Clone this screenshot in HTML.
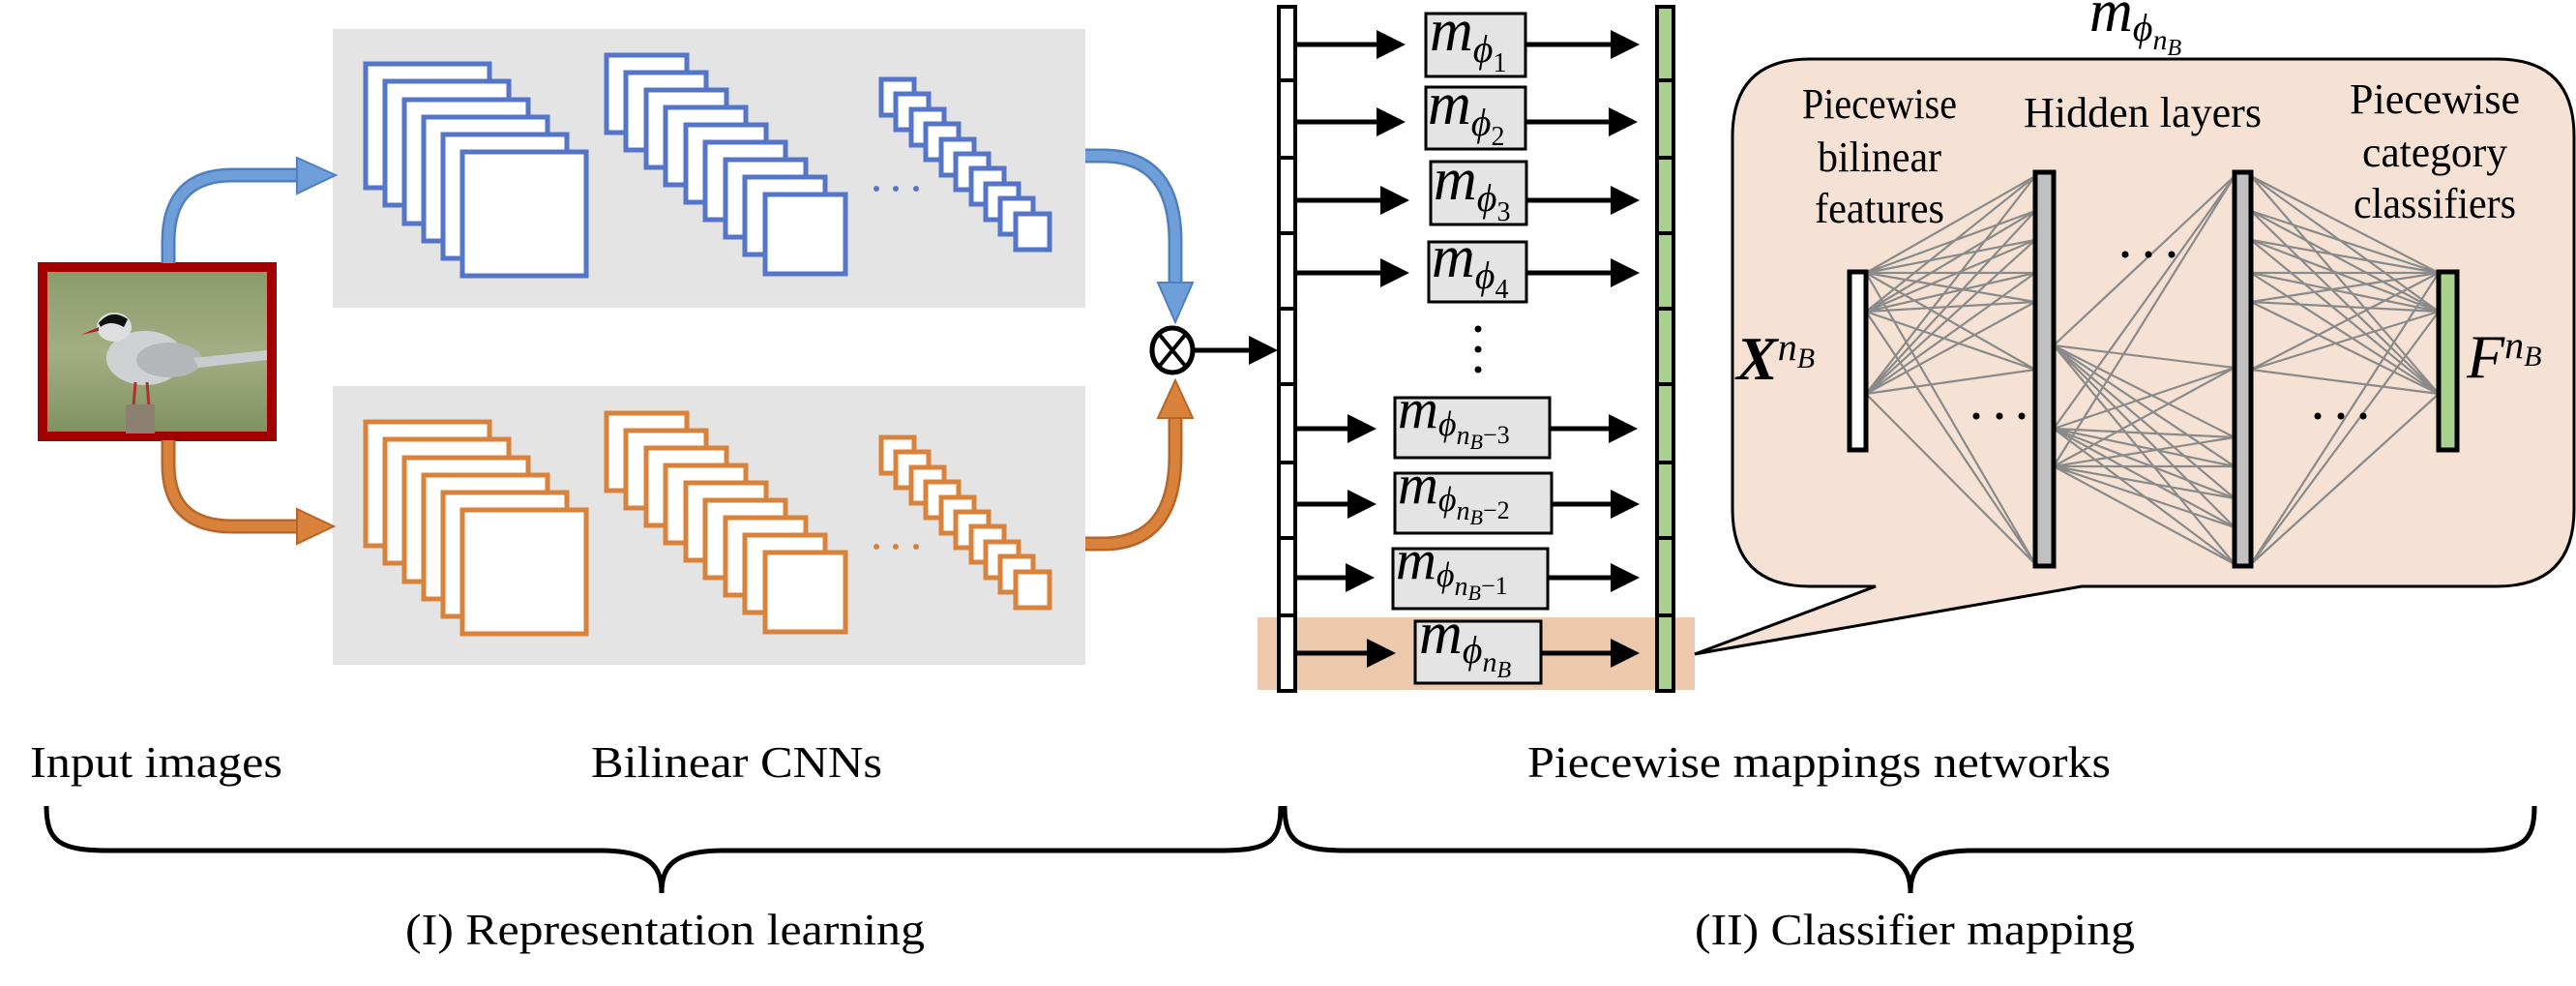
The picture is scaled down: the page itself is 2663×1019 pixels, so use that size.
<!DOCTYPE html>
<html><head><meta charset="utf-8"><style>
html,body{margin:0;padding:0;background:#fff;}
svg{display:block;}
text{font-family:"Liberation Serif",serif;fill:#000;}
</style></head><body>
<svg width="2663" height="1019" viewBox="0 0 2663 1019" xmlns="http://www.w3.org/2000/svg">
<defs>
<linearGradient id="bg" x1="0" y1="0" x2="0" y2="1">
<stop offset="0" stop-color="#8a9a6a"/><stop offset="0.5" stop-color="#a4ae84"/><stop offset="1" stop-color="#7f9060"/>
</linearGradient>
<marker id="ah" markerWidth="6" markerHeight="6" refX="5" refY="3" orient="auto" markerUnits="strokeWidth"><path d="M0,0 L6,3 L0,6 z" fill="#000"/></marker>
</defs>

<rect x="344" y="30" width="778" height="288" fill="#e4e4e4"/>
<rect x="344" y="399" width="778" height="288" fill="#e4e4e4"/>

<rect x="44" y="276" width="237" height="175" fill="url(#bg)" stroke="#a30000" stroke-width="10"/>
<g>
<ellipse cx="150" cy="370" rx="40" ry="28" fill="#cfd1d3"/>
<ellipse cx="175" cy="372" rx="34" ry="18" fill="#b4b7ba"/>
<path d="M200 370 L276 362 L276 372 L205 380 z" fill="#c9ccce"/>
<ellipse cx="118" cy="338" rx="18" ry="15" fill="#dcdedf"/>
<path d="M102 334 Q115 318 132 330 L128 338 Q114 330 104 338z" fill="#111"/>
<path d="M102 338 L84 346 L102 342z" fill="#b02020"/>
<path d="M140 395 L138 420 M152 395 L154 420" stroke="#b03030" stroke-width="3"/>
<rect x="130" y="418" width="30" height="30" fill="#8c8070"/>
</g>

<path d="M174 272 V250 Q174 181 240 181 H310" fill="none" stroke="#4f7fbf" stroke-width="15"/>
<path d="M174 272 V250 Q174 181 240 181 H310" fill="none" stroke="#6f9fd8" stroke-width="10"/>
<polygon points="307,163 347,181 307,200" fill="#6f9fd8" stroke="#4f7fbf" stroke-width="2"/>
<path d="M1122 161 H1140 Q1215 161 1215 250 V294" fill="none" stroke="#4f7fbf" stroke-width="15"/>
<path d="M1122 161 H1140 Q1215 161 1215 250 V294" fill="none" stroke="#6f9fd8" stroke-width="10"/>
<polygon points="1197,292 1233,292 1215,333" fill="#6f9fd8" stroke="#4f7fbf" stroke-width="2"/>
<path d="M174 455 V480 Q174 544 240 544 H310" fill="none" stroke="#b8652a" stroke-width="15"/>
<path d="M174 455 V480 Q174 544 240 544 H310" fill="none" stroke="#d9823b" stroke-width="10"/>
<polygon points="307,526 345,544 307,562" fill="#d9823b" stroke="#b8652a" stroke-width="2"/>
<path d="M1122 562 H1140 Q1215 562 1215 470 V430" fill="none" stroke="#b8652a" stroke-width="15"/>
<path d="M1122 562 H1140 Q1215 562 1215 470 V430" fill="none" stroke="#d9823b" stroke-width="10"/>
<polygon points="1197,432 1233,432 1215,393" fill="#d9823b" stroke="#b8652a" stroke-width="2"/>

<g fill="#fff" stroke="#5575c8" stroke-width="5">
<rect x="378" y="66" width="128" height="128"/><rect x="398" y="84" width="128" height="128"/><rect x="418" y="103" width="128" height="128"/><rect x="438" y="121" width="128" height="128"/><rect x="458" y="139" width="128" height="128"/><rect x="478" y="157" width="128" height="128"/>
<rect x="627" y="57" width="83" height="80"/><rect x="647" y="75" width="83" height="80"/><rect x="668" y="93" width="83" height="80"/><rect x="688" y="111" width="83" height="80"/><rect x="709" y="129" width="83" height="80"/><rect x="729" y="147" width="83" height="80"/><rect x="750" y="165" width="83" height="80"/><rect x="770" y="183" width="83" height="80"/><rect x="791" y="201" width="83" height="82"/>
<rect x="911" y="82" width="34" height="37"/><rect x="926" y="97" width="34" height="37"/><rect x="942" y="113" width="34" height="37"/><rect x="957" y="128" width="34" height="37"/><rect x="973" y="144" width="34" height="37"/><rect x="988" y="159" width="34" height="37"/><rect x="1004" y="174" width="34" height="37"/><rect x="1019" y="190" width="34" height="37"/><rect x="1034" y="205" width="34" height="37"/><rect x="1050" y="221" width="35" height="37"/>
</g>
<g fill="#5575c8"><circle cx="906" cy="195" r="3"/><circle cx="926" cy="195" r="3"/><circle cx="947" cy="195" r="3"/></g>
<g fill="#fff" stroke="#d9823b" stroke-width="5" transform="translate(0,370)">
<rect x="378" y="66" width="128" height="128"/><rect x="398" y="84" width="128" height="128"/><rect x="418" y="103" width="128" height="128"/><rect x="438" y="121" width="128" height="128"/><rect x="458" y="139" width="128" height="128"/><rect x="478" y="157" width="128" height="128"/>
<rect x="627" y="57" width="83" height="80"/><rect x="647" y="75" width="83" height="80"/><rect x="668" y="93" width="83" height="80"/><rect x="688" y="111" width="83" height="80"/><rect x="709" y="129" width="83" height="80"/><rect x="729" y="147" width="83" height="80"/><rect x="750" y="165" width="83" height="80"/><rect x="770" y="183" width="83" height="80"/><rect x="791" y="201" width="83" height="82"/>
<rect x="911" y="82" width="34" height="37"/><rect x="926" y="97" width="34" height="37"/><rect x="942" y="113" width="34" height="37"/><rect x="957" y="128" width="34" height="37"/><rect x="973" y="144" width="34" height="37"/><rect x="988" y="159" width="34" height="37"/><rect x="1004" y="174" width="34" height="37"/><rect x="1019" y="190" width="34" height="37"/><rect x="1034" y="205" width="34" height="37"/><rect x="1050" y="221" width="35" height="37"/>
</g>
<g fill="#d9823b"><circle cx="906" cy="565" r="3"/><circle cx="926" cy="565" r="3"/><circle cx="947" cy="565" r="3"/></g>

<ellipse cx="1212" cy="362" rx="21" ry="23" fill="#fff" stroke="#000" stroke-width="5"/>
<path d="M1198 345 L1226 379 M1226 345 L1198 379" stroke="#000" stroke-width="4"/>
<line x1="1234" y1="362" x2="1316" y2="362" stroke="#000" stroke-width="5" marker-end="url(#ah)"/>

<rect x="1300" y="638" width="452" height="75" fill="#ecc9ad"/>

<path d="M1871 61 H2581 Q2661 61 2661 141 V526 Q2661 606 2581 606 H2152 L1752 676 L1939 606 H1871 Q1791 606 1791 526 V141 Q1791 61 1871 61 Z" fill="#f5e2d4" stroke="#000" stroke-width="3"/>

<rect x="1322" y="7" width="17" height="707" fill="#fff" stroke="#000" stroke-width="4"/>
<rect x="1713" y="7" width="17" height="707" fill="#a9d18e" stroke="#000" stroke-width="4"/>
<g stroke="#000" stroke-width="4">
<path d="M1322 83 H1339 M1322 163 H1339 M1322 241 H1339 M1322 319 H1339 M1322 397 H1339 M1322 478 H1339 M1322 556 H1339 M1322 636 H1339"/>
<path d="M1713 83 H1730 M1713 163 H1730 M1713 241 H1730 M1713 319 H1730 M1713 397 H1730 M1713 478 H1730 M1713 556 H1730 M1713 636 H1730"/>
</g>

<g fill="#e4e4e4" stroke="#000" stroke-width="3">
<rect x="1474" y="14" width="103" height="65"/>
<rect x="1474" y="90" width="103" height="64"/>
<rect x="1479" y="167" width="99" height="65"/>
<rect x="1477" y="250" width="101" height="62"/>
<rect x="1442" y="411" width="160" height="62"/>
<rect x="1442" y="489" width="162" height="62"/>
<rect x="1440" y="567" width="160" height="62"/>
<rect x="1463" y="642" width="130" height="64"/>
</g>
<g stroke="#000" stroke-width="5" marker-end="url(#ah)">
<line x1="1339" y1="46" x2="1448" y2="46"/><line x1="1577" y1="46" x2="1690" y2="46"/>
<line x1="1339" y1="126" x2="1448" y2="126"/><line x1="1577" y1="126" x2="1688" y2="126"/>
<line x1="1339" y1="207" x2="1452" y2="207"/><line x1="1578" y1="207" x2="1690" y2="207"/>
<line x1="1339" y1="282" x2="1452" y2="282"/><line x1="1578" y1="282" x2="1690" y2="282"/>
<line x1="1339" y1="443" x2="1418" y2="443"/><line x1="1602" y1="443" x2="1688" y2="443"/>
<line x1="1339" y1="521" x2="1418" y2="521"/><line x1="1604" y1="521" x2="1690" y2="521"/>
<line x1="1339" y1="597" x2="1416" y2="597"/><line x1="1600" y1="597" x2="1690" y2="597"/>
<line x1="1339" y1="675" x2="1438" y2="675"/><line x1="1593" y1="675" x2="1690" y2="675"/>
</g>
<g fill="#000"><circle cx="1528" cy="340" r="3.5"/><circle cx="1528" cy="361" r="3.5"/><circle cx="1528" cy="382" r="3.5"/></g>

<g font-style="italic">
<text x="1478" y="52" font-size="62">m<tspan font-size="40" dy="12">ϕ</tspan><tspan font-size="28" font-style="normal" dy="10">1</tspan></text>
<text x="1476" y="128" font-size="62">m<tspan font-size="40" dy="12">ϕ</tspan><tspan font-size="28" font-style="normal" dy="10">2</tspan></text>
<text x="1482" y="206" font-size="62">m<tspan font-size="40" dy="12">ϕ</tspan><tspan font-size="28" font-style="normal" dy="10">3</tspan></text>
<text x="1480" y="286" font-size="62">m<tspan font-size="40" dy="12">ϕ</tspan><tspan font-size="28" font-style="normal" dy="10">4</tspan></text>
<text x="1445" y="442" font-size="58">m<tspan font-size="36" dy="8">ϕ</tspan><tspan font-size="28" dy="9">n</tspan><tspan font-size="22" dy="5">B</tspan><tspan font-size="26" font-style="normal" dy="-6">−3</tspan></text>
<text x="1445" y="520" font-size="58">m<tspan font-size="36" dy="8">ϕ</tspan><tspan font-size="28" dy="9">n</tspan><tspan font-size="22" dy="5">B</tspan><tspan font-size="26" font-style="normal" dy="-6">−2</tspan></text>
<text x="1443" y="598" font-size="58">m<tspan font-size="36" dy="8">ϕ</tspan><tspan font-size="28" dy="9">n</tspan><tspan font-size="22" dy="5">B</tspan><tspan font-size="26" font-style="normal" dy="-6">−1</tspan></text>
<text x="1467" y="675" font-size="62">m<tspan font-size="40" dy="10">ϕ</tspan><tspan font-size="30" dy="9">n</tspan><tspan font-size="24" dy="6">B</tspan></text>
<text x="2160" y="32" font-size="62">m<tspan font-size="40" dy="10">ϕ</tspan><tspan font-size="30" dy="9">n</tspan><tspan font-size="24" dy="6">B</tspan></text>
</g>

<g stroke="#8a8a8a" stroke-width="2.2" fill="none">
<path d="M1929 282 L2104 182 M1929 282 L2104 218 M1929 282 L2104 248 M1929 282 L2104 282 M1929 282 L2104 312 M1929 282 L2104 382 M1929 282 L2104 583
M1929 322 L2104 182 M1929 322 L2104 218 M1929 322 L2104 248 M1929 322 L2104 282 M1929 322 L2104 312 M1929 322 L2104 382 M1929 322 L2104 583
M1929 407 L2104 182 M1929 407 L2104 218 M1929 407 L2104 248 M1929 407 L2104 282 M1929 407 L2104 312 M1929 407 L2104 382 M1929 407 L2104 583"/>
<path d="M2123 357 L2310 182 M2123 357 L2310 380 M2123 357 L2310 452 M2123 357 L2310 482 M2123 357 L2310 515 M2123 357 L2310 545 M2123 357 L2310 583
M2123 443 L2310 182 M2123 443 L2310 380 M2123 443 L2310 452 M2123 443 L2310 482 M2123 443 L2310 515 M2123 443 L2310 545 M2123 443 L2310 583
M2123 482 L2310 182 M2123 482 L2310 380 M2123 482 L2310 452 M2123 482 L2310 482 M2123 482 L2310 515 M2123 482 L2310 545 M2123 482 L2310 583"/>
<path d="M2327 182 L2521 282 M2327 218 L2521 282 M2327 248 L2521 282 M2327 282 L2521 282 M2327 312 L2521 282 M2327 382 L2521 282 M2327 583 L2521 282
M2327 182 L2521 322 M2327 218 L2521 322 M2327 248 L2521 322 M2327 282 L2521 322 M2327 312 L2521 322 M2327 382 L2521 322 M2327 583 L2521 322
M2327 182 L2521 407 M2327 218 L2521 407 M2327 248 L2521 407 M2327 282 L2521 407 M2327 312 L2521 407 M2327 382 L2521 407 M2327 583 L2521 407"/>
</g>
<rect x="1912" y="281" width="17" height="184" fill="#fff" stroke="#000" stroke-width="5"/>
<rect x="2104" y="178" width="19" height="407" fill="#c0c0c0" stroke="#000" stroke-width="5"/>
<rect x="2310" y="178" width="17" height="407" fill="#c0c0c0" stroke="#000" stroke-width="5"/>
<rect x="2521" y="281" width="19" height="184" fill="#a9d18e" stroke="#000" stroke-width="5"/>
<g fill="#000">
<circle cx="2197" cy="263" r="3.5"/><circle cx="2221" cy="263" r="3.5"/><circle cx="2245" cy="263" r="3.5"/>
<circle cx="2043" cy="430" r="3.5"/><circle cx="2067" cy="430" r="3.5"/><circle cx="2090" cy="430" r="3.5"/>
<circle cx="2396" cy="430" r="3.5"/><circle cx="2420" cy="430" r="3.5"/><circle cx="2443" cy="430" r="3.5"/>
</g>

<text x="1795" y="392" font-size="64" font-weight="bold" font-style="italic">X<tspan font-size="40" font-weight="normal" dy="-20">n</tspan><tspan font-size="30" font-weight="normal" dy="8">B</tspan></text>
<text x="2550" y="390" font-size="64" font-style="italic">F<tspan font-size="40" dy="-20">n</tspan><tspan font-size="30" dy="8">B</tspan></text>

<g font-size="44" text-anchor="middle">
<text x="1943" y="122" textLength="160" lengthAdjust="spacingAndGlyphs">Piecewise</text>
<text x="1943" y="177" textLength="128" lengthAdjust="spacingAndGlyphs">bilinear</text>
<text x="1943" y="230" textLength="134" lengthAdjust="spacingAndGlyphs">features</text>
<text x="2215" y="131" textLength="246" lengthAdjust="spacingAndGlyphs">Hidden layers</text>
<text x="2517" y="117" textLength="176" lengthAdjust="spacingAndGlyphs">Piecewise</text>
<text x="2517" y="172" textLength="150" lengthAdjust="spacingAndGlyphs">category</text>
<text x="2517" y="225" textLength="168" lengthAdjust="spacingAndGlyphs">classifiers</text>
</g>

<g font-size="46">
<text x="31" y="803" textLength="261" lengthAdjust="spacingAndGlyphs">Input images</text>
<text x="611" y="803" textLength="301" lengthAdjust="spacingAndGlyphs">Bilinear CNNs</text>
<text x="1579" y="803" textLength="603" lengthAdjust="spacingAndGlyphs">Piecewise mappings networks</text>
<text x="419" y="976" textLength="537" lengthAdjust="spacingAndGlyphs">(I) Representation learning</text>
<text x="1752" y="976" textLength="455" lengthAdjust="spacingAndGlyphs">(II) Classifier mapping</text>
</g>

<g fill="none" stroke="#000" stroke-width="5">
<path d="M48 833 C48 870 62 879 112 879 H620 C672 879 684 895 684 923 C684 895 696 879 748 879 H1262 C1312 879 1324 870 1324 833"/>
<path d="M1328 833 C1328 870 1342 879 1392 879 H1910 C1962 879 1975 895 1975 923 C1975 895 1988 879 2040 879 H2560 C2608 879 2620 870 2620 833"/>
</g>
</svg>
</body></html>
